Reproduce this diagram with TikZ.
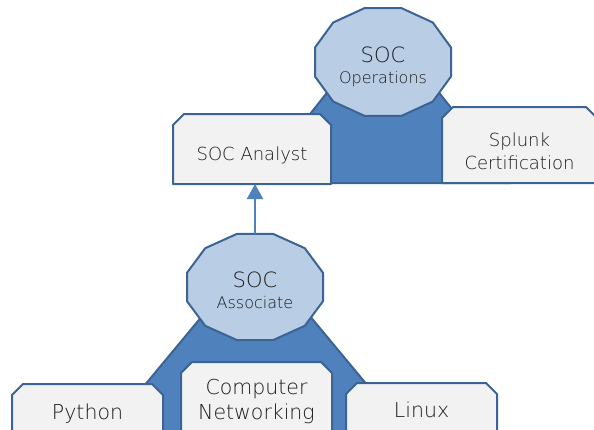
\documentclass[tikz,border=0pt]{standalone}
\usepackage{fontspec}
\setmainfont{DejaVu Sans}[UprightFont=* ExtraLight]
\usetikzlibrary{arrows.meta,positioning}
\definecolor{accentblue}{HTML}{4F81BD}
\definecolor{lineblue}{HTML}{3B6494}
\definecolor{paleblue}{HTML}{B9CDE5}
\definecolor{boxgray}{HTML}{F2F2F2}
\definecolor{txtgray}{HTML}{1A1A1A}
\tikzset{
  plate/.style={fill=accentblue, draw=lineblue, line width=2pt, line join=round},
  dodeca/.style={fill=paleblue, draw=lineblue, line width=2pt, line join=round},
  hub/.style={minimum width=136pt, minimum height=106pt, inner sep=0pt},
  hubtext/.style={align=center, text=txtgray, font=\fontsize{21}{21}\selectfont},
  boxspot/.style={inner sep=0pt, outer sep=0pt},
  snipfill/.style={fill=boxgray, draw=lineblue, line width=2pt, line join=round},
  toptext/.style={align=center, text=txtgray, font=\fontsize{18}{23}\selectfont},
  lowtext/.style={align=center, text=txtgray, font=\fontsize{20.5}{25}\selectfont},
  uparrow/.style={draw=accentblue, line width=2pt, -{Triangle[width=16pt,length=15pt]}}
}
\begin{document}
\begin{tikzpicture}[x=1pt,y=-1pt]
\useasboundingbox (0,0) rectangle (594,429);
% blue plates behind each group
\draw[plate] (337,80) -- (429,80) -- (510.5,183) -- (255.5,183) -- cycle;
\draw[plate] (215.5,300) -- (296.5,300) -- (417,445) -- (95,445) -- cycle;
% hubs
\node[hub] (ops) at (383,62) {};
\node[hub] (asc) at (255,287) {};
\draw[dodeca, shift={(ops.center)}] plot[samples at={15,45,...,345}] ({70.4*cos(\x)},{55.9*sin(\x)}) -- cycle;
\draw[dodeca, shift={(asc.center)}] plot[samples at={15,45,...,345}] ({70.4*cos(\x)},{54.9*sin(\x)}) -- cycle;
\node[hubtext] (opstext) at ([yshift=-5pt]ops.center) {SOC\\{\fontsize{16}{21}\selectfont Operations}};
\node[hubtext] (asctext) at ([yshift=-3pt]asc.center) {SOC\\{\fontsize{16}{21}\selectfont Associate}};
% boxes: spots, then snipped outlines
\node[boxspot, minimum width=158pt, minimum height=70pt] (ana) at (252,149) {};
\node[boxspot, minimum width=155pt, minimum height=76pt] (spl) at (519.5,145) {};
\node[boxspot, minimum width=151pt, minimum height=56pt] (pyt) at (87.5,412) {};
\node[boxspot, minimum width=151pt, minimum height=80pt] (cnw) at (256.5,402) {};
\node[boxspot, minimum width=151pt, minimum height=54pt] (lnx) at (421.5,410) {};
\foreach \b in {ana,spl,pyt,cnw,lnx}
  \draw[snipfill] (\b.south west) -- ([yshift=-11pt]\b.north west) -- ([xshift=11pt]\b.north west)
    -- ([xshift=-11pt]\b.north east) -- ([yshift=-11pt]\b.north east) -- (\b.south east) -- cycle;
\node[toptext] (anatext) at ([yshift=-6pt]ana.center) {SOC Analyst};
\node[toptext] (spltext) at ([yshift=-6pt]spl.center) {Splunk\\Certification};
\node[lowtext] (pyttext) at ([yshift=-2pt]pyt.center) {Python};
\node[lowtext] (cnwtext) at (cnw.center) {Computer\\Networking};
\node[lowtext] (lnxtext) at (lnx.center) {Linux};
% connector
\draw[uparrow] (asc.north) -- (asc.north |- ana.south);
\end{tikzpicture}
\end{document}
